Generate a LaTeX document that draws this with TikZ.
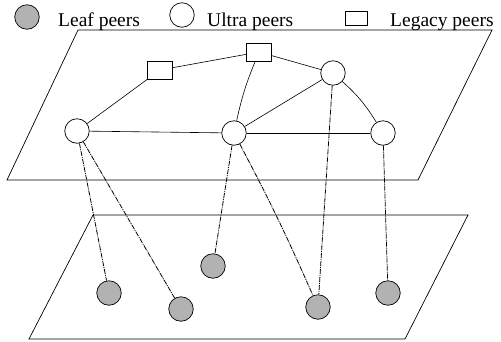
\documentclass[tikz,border=0pt]{standalone}
\usepackage{fontspec}
\setmainfont{Liberation Serif}
\definecolor{leafgray}{RGB}{178,178,178}
\begin{document}
\begin{tikzpicture}[x=1pt,y=-1pt,
  ultra/.style={circle,draw,line width=0.7pt,minimum size=24.5pt,inner sep=0pt,fill=white},
  leaf/.style={circle,draw,line width=0.7pt,minimum size=24.5pt,inner sep=0pt,fill=leafgray},
  legacy/.style={rectangle,draw,line width=0.7pt,minimum width=24.5pt,minimum height=18pt,inner sep=0pt,fill=white},
  plane/.style={draw,line width=0.7pt},
  link/.style={line width=0.6pt},
  leaflink/.style={line width=0.8pt,dash pattern=on 5pt off 1pt on 1pt off 1pt},
  lbl/.style={anchor=base west,inner sep=0pt,font=\fontsize{19.5}{22}\selectfont}]
\useasboundingbox (0,0) rectangle (501,341);
% planes
\draw[plane] (7,180) -- (418,180) -- (492,30) -- (78,30) -- cycle;
\draw[plane] (29,339) -- (405,339) -- (468,215) -- (93,215) -- cycle;
% legend
\node[leaf] (kleaf) at (27,17) {};
\node[lbl] (tleaf) at (58,26) {Leaf peers};
\node[ultra] (kultra) at (182,15) {};
\node[lbl] (tultra) at (207,26) {Ultra peers};
\node[legacy,minimum width=22pt,minimum height=14pt] (klegacy) at (356,18) {};
\node[lbl] (tlegacy) at (390,26) {Legacy peers};
% top plane nodes
\node[legacy] (g1) at (160,70) {};
\node[legacy] (g2) at (259,52) {};
\node[ultra] (ua) at (333,73) {};
\node[ultra] (ul) at (77,131) {};
\node[ultra] (um) at (234,133) {};
\node[ultra] (ur) at (383,133) {};
% leaf nodes
\node[leaf] (l1) at (109,293) {};
\node[leaf] (l2) at (181,309) {};
\node[leaf] (l3) at (213,266) {};
\node[leaf] (l4) at (318,307) {};
\node[leaf] (l5) at (388,293) {};
% solid links
\draw[link] (ul) -- (g1);
\draw[link] (g1) -- (g2);
\draw[link] (g2) -- (ua);
\draw[link] (g2) to[bend right=5] (um);
\draw[link] (ua) -- (um);
\draw[link] (ua) to[bend left=8] (ur);
\draw[link] (ul) -- (um);
\draw[link] (um) -- (ur);
% leaf links
\draw[leaflink] (ul) -- (l1);
\draw[leaflink] (ul) -- (l2);
\draw[leaflink] (um) -- (l3);
\draw[leaflink] (um) to[bend left=2] (l4);
\draw[leaflink] (ua) -- (l4);
\draw[leaflink] (ur) -- (l5);
\end{tikzpicture}
\end{document}
